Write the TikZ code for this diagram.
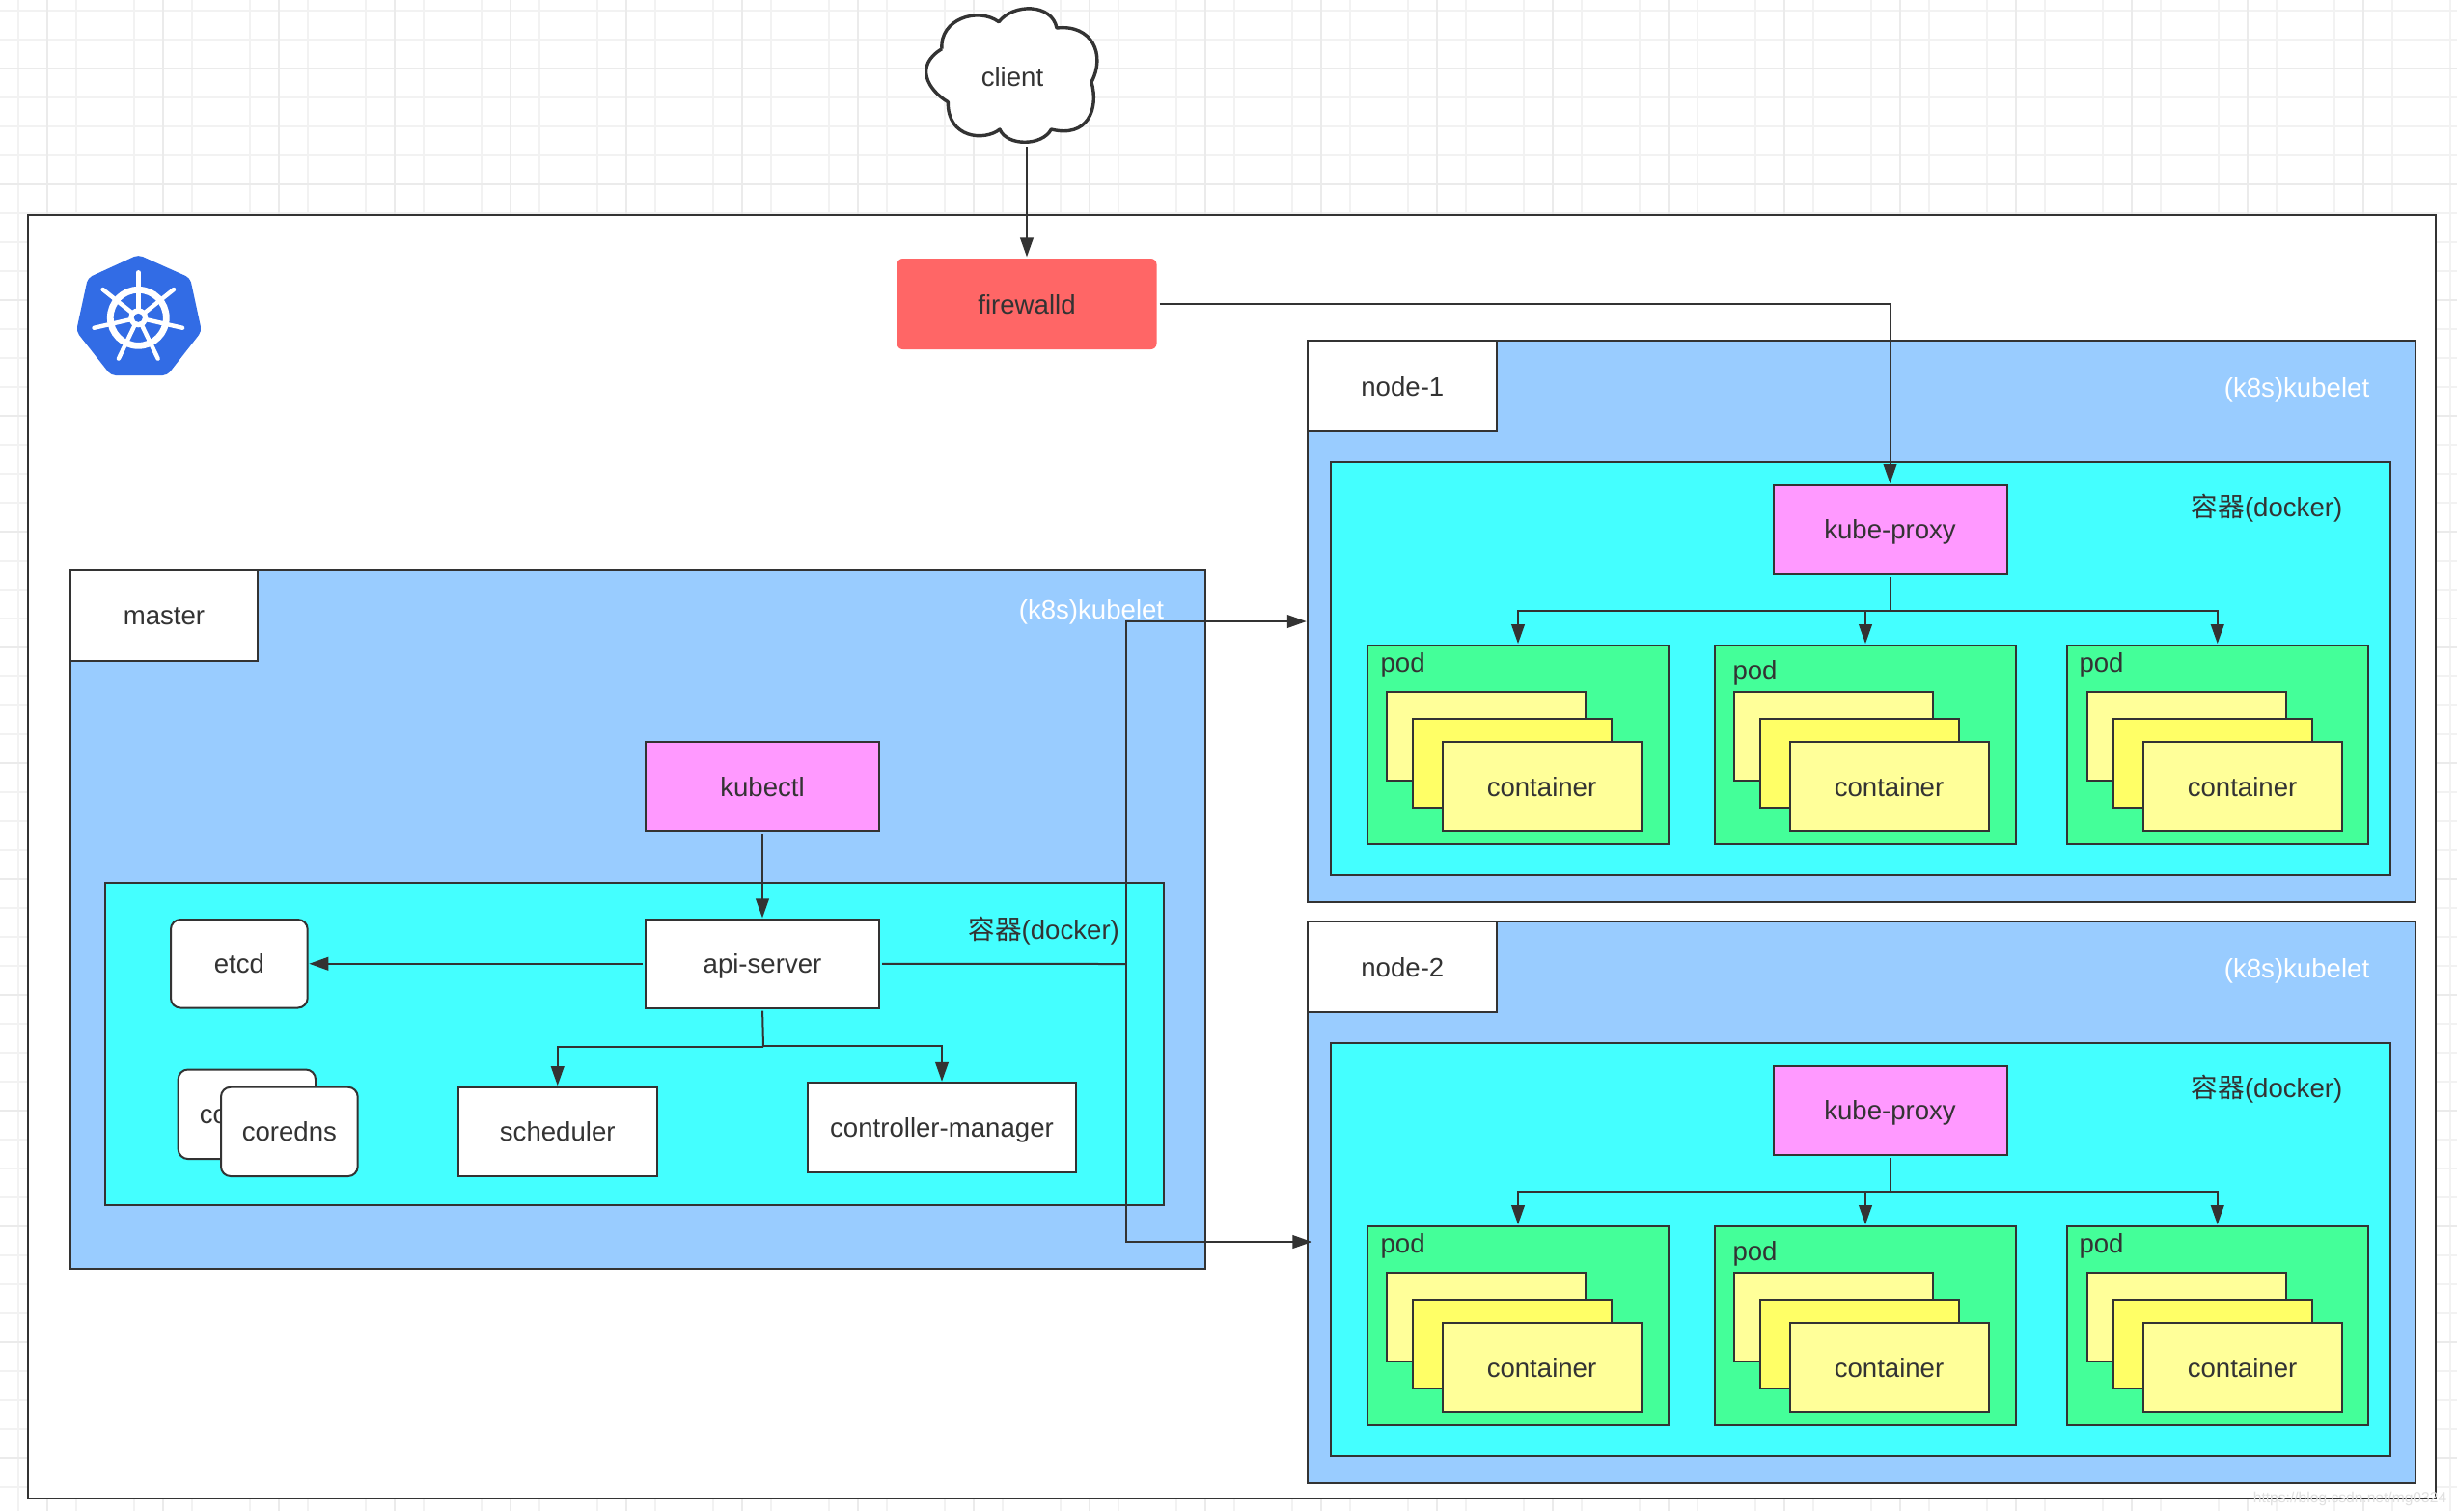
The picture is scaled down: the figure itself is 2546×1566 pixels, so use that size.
\documentclass[tikz,border=0pt]{standalone}
\usepackage{fontspec}
\setmainfont{Liberation Sans}
\newfontfamily\cjk{Noto Sans CJK SC}
\usetikzlibrary{arrows.meta}

\definecolor{ink}{HTML}{333333}
\definecolor{kubeblue}{HTML}{326CE5}
\definecolor{hostblue}{HTML}{99CCFF}
\definecolor{dockcyan}{HTML}{44FFFF}
\definecolor{podgreen}{HTML}{44FF99}
\definecolor{procpink}{HTML}{FF99FF}
\definecolor{wallred}{HTML}{FF6666}
\definecolor{palelemon}{HTML}{FFFF99}
\definecolor{lemon}{HTML}{FFFF66}

\tikzset{
	every node/.style={font=\fontsize{6.9pt}{8pt}\selectfont, text=ink, inner sep=0pt, outer sep=0pt, text height=6pt, text depth=1pt},
	sz/.style 2 args={minimum width=#1*0.25pt, minimum height=#2*0.25pt},
	panel/.style={draw=ink, line width=0.5pt, fill=#1},
	panel/.default=white,
	wire/.style={draw=ink, line width=0.5pt, shorten <=0.8pt},
	link/.style={wire, shorten >=0.4pt, -{Triangle[length=5pt,width=3.4pt]}},
	gridminor/.style={draw=black!5, line width=0.5pt},
	gridmajor/.style={draw=black!8, line width=0.5pt},
}

\begin{document}
\begin{tikzpicture}[x=0.25pt,y=-0.25pt]

	\fill [white] (0,0) rectangle (2546,1566);
	\useasboundingbox (0,0) rectangle (2546,1566);

	\foreach \i in {19,79,...,2539}
	\draw [gridminor] (\i,0)--(\i,1566);%竖线
	\foreach \i in {10.7,40.7,...,1560}
	\draw [gridminor] (0,\i)--(2546,\i);%横线
	\foreach \i in {49,169,...,2546}
	\draw [gridmajor] (\i,0)--(\i,1566);
	\foreach \i in {70.7,190.7,...,1566}
	\draw [gridmajor] (0,\i)--(2546,\i);

	\draw [panel] (29,222.7) rectangle (2523.7,1552.7);%外框

	%logo
	\fill [kubeblue, rounded corners=1.2pt] (143.3,264)--(197,288)--(209,343.3)--(173.3,389)--(115,389)--(79,343.3)--(91,288)--cycle;
	\draw [white, line width=1.7pt] (143.3,329.3) circle [radius=29];
	\foreach \i in {0,...,6}
	\draw [white, line width=1.1pt, line cap=round] (143.3,329.3)--++(-90+\i*360/7:47);
	\fill [white] (143.3,329.3) circle [radius=10];
	\fill [kubeblue] (143.3,329.3) circle [radius=4.5];

	%client
	\draw [ink, fill=white, line width=0.85pt, line join=round] (976,50.7)
		.. controls (973.3,20) and (1013.3,6.7) .. (1035,22.7)
		.. controls (1050,3.3) and (1090,3.3) .. (1095,29)
		.. controls (1131.7,25) and (1146,56.7) .. (1131,85)
		.. controls (1139,113.3) and (1126.7,143.3) .. (1089.3,134)
		.. controls (1080,151.7) and (1043.3,151.7) .. (1036,134)
		.. controls (1020,146.7) and (981.7,143.3) .. (982.3,105.7)
		.. controls (961.7,93.3) and (946.7,68.3) .. (976,50.7);
	\node [sz={180}{146}] (client) at (1049,79) {client};

	\node [fill=wallred, rounded corners=1.5pt, sz={269}{94}] (firewall) at (1064,315) {firewalld};

	%master
	\node [panel=hostblue, sz={1175.5}{724.5}] (master) at (660.75,952.75) {};
	\node [panel, sz={193.6}{94.3}] (masterlabel) at (170,637.7) {master};
	\node [text=white] (masterlet) at (1131,631) {(k8s)kubelet};
	\node [panel=procpink, sz={242}{92}] (kubectl) at (790,815) {kubectl};
	\node [panel=dockcyan, sz={1097.4}{333.9}] (masterdock) at (657.7,1081.75) {};
	\node (masterdocktext) at (1081.7,963) {{\cjk 容器}(docker)};
	\node [panel, rounded corners=2.5pt, sz={141.7}{91.5}] (etcd) at (247.85,998.75) {etcd};
	\node [panel, sz={242}{91.5}] (api) at (790,998.75) {api-server};
	\node [panel, rounded corners=2.5pt, sz={142.3}{92.5}] (dnsback) at (255.85,1154.75) {coredns};
	\node [panel, rounded corners=2.5pt, sz={141.7}{92.3}] (dns) at (299.85,1172.85) {coredns};
	\node [panel, sz={205.9}{92.3}] (scheduler) at (577.75,1172.85) {scheduler};
	\node [panel, sz={278.5}{92.6}] (controller) at (976,1168.7) {controller-manager};

	%node-1, node-2
	\foreach \k/\dy in {1/0,2/602}
	{
	\begin{scope}[shift={(0,\dy)}]
	\node [panel=hostblue, sz={1147.3}{582}] (node\k) at (1929,644) {};
	\node [panel, sz={196}{94}] (nodelabel\k) at (1453.35,400) {node-\k};
	\node [text=white] (nodelet\k) at (2380,401) {(k8s)kubelet};
	\node [panel=dockcyan, sz={1097.6}{428}] (dock\k) at (1927.8,693) {};
	\node (docktext\k) at (2349,525) {{\cjk 容器}(docker)};
	\node [panel=procpink, sz={242}{92.4}] (proxy\k) at (1958.5,548.8) {kube-proxy};
	\coordinate (bus\k) at (1958.5,633);
	\draw [wire] (proxy\k.south)--(bus\k);
	\foreach \p/\px/\tx/\ty/\cx in {1/1573/1430.6/686.3/1539.5, 2/1933/1795.5/694/1899.5, 3/2297.75/2154.5/686.3/2265.5}
	{
		\node [panel=podgreen, sz={312}{206.3}] (pod\k\p) at (\px,771.85) {};
		\node [anchor=west] (podtext\k\p) at (\tx,\ty) {pod};
		\node [panel=palelemon, sz={206}{92}] (boxa\k\p) at (\cx,763) {};
		\node [panel=lemon, sz={206}{92}] (boxb\k\p) at (\cx+27.4,791) {};
		\node [panel=palelemon, sz={206}{92}] (boxc\k\p) at (\cx+58,815) {container};
		\draw [link, shorten <=0pt] (bus\k) -| (pod\k\p.north);
	}
	\end{scope}
	}

	%连线
	\coordinate (turn) at (1167,999);
	\coordinate (intwo) at (1361,1287);
	\coordinate (forkl) at (791,1085);
	\coordinate (forkr) at (791,1083.7);
	\draw [link, shorten <=0pt] (client.south -| firewall.north)--(firewall.north);
	\draw [link] (firewall.east) -| (proxy1.north);
	\draw [link] (kubectl.south)--(api.north);
	\draw [link] (api.west)--(etcd.east);
	\draw [wire] (api.south)--(forkl);
	\draw [link, shorten <=0pt] (forkl) -| (scheduler.north);
	\draw [link, shorten <=0pt] (forkr) -| (controller.north);
	\draw [wire] (api.east)--(turn);
	\draw [link, shorten <=0pt] (turn) |- (node1.west);
	\draw [link, shorten <=0pt] (turn) |- (intwo);

	\node [font=\fontsize{3.9pt}{5pt}\selectfont, text=black!12] (mark) at (2435,1547) {https://blog.csdn.net/mg0324};

\end{tikzpicture}
\end{document}
